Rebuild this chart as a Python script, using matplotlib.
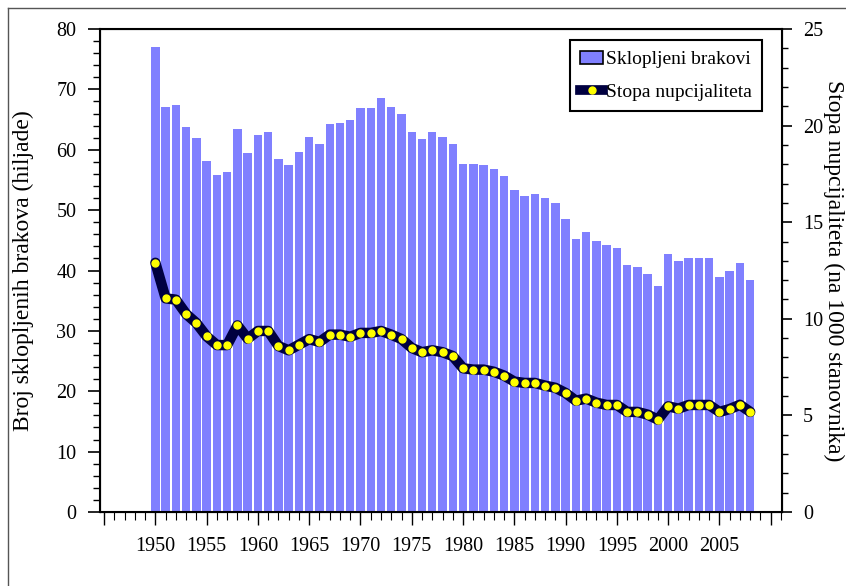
import matplotlib.pyplot as plt
import matplotlib.lines as mlines
import matplotlib.patches as mpatches
from matplotlib.ticker import MultipleLocator, FixedLocator

plt.rcParams['font.family'] = ['Liberation Serif', 'DejaVu Serif']

years = list(range(1950, 2009))

# broj sklopljenih brakova (hiljade)
brakovi = [77.0, 67.1, 67.4, 63.8, 61.9, 58.1, 55.8, 56.3, 63.4, 59.5,
           62.5, 62.9, 58.4, 57.4, 59.7, 62.1, 61.0, 64.3, 64.5, 65.0,
           66.9, 66.9, 68.6, 67.1, 66.0, 62.9, 61.7, 62.9, 62.1, 61.0,
           57.7, 57.7, 57.4, 56.8, 55.6, 53.4, 52.4, 52.6, 52.0, 51.2,
           48.5, 45.3, 46.3, 44.9, 44.2, 43.7, 40.9, 40.5, 39.5, 37.4,
           42.7, 41.6, 42.1, 42.0, 42.1, 38.9, 39.9, 41.2, 38.4]

# stopa nupcijaliteta (na 1000 stanovnika)
stopa = [12.9, 11.06, 10.99, 10.25, 9.78, 9.09, 8.64, 8.64, 9.66, 8.97,
         9.37, 9.37, 8.59, 8.37, 8.66, 8.95, 8.80, 9.18, 9.18, 9.07,
         9.27, 9.27, 9.37, 9.18, 8.95, 8.49, 8.27, 8.37, 8.27, 8.07,
         7.44, 7.37, 7.37, 7.26, 7.06, 6.75, 6.68, 6.68, 6.54, 6.43,
         6.16, 5.76, 5.87, 5.66, 5.54, 5.54, 5.18, 5.18, 5.04, 4.78,
         5.47, 5.35, 5.54, 5.54, 5.54, 5.18, 5.33, 5.55, 5.18]

xticks = list(range(1945, 2011, 5))
xlabels = ['' if y in (1945, 2010) else str(y) for y in xticks]

bar_color = '#8080ff'
line_color = '#000040'

fig = plt.figure(figsize=(8.46, 5.86), dpi=100)
ax = fig.add_axes([100 / 846, 74 / 586, 682 / 846, 483 / 586])

ax.bar(years, brakovi, width=0.82, color=bar_color, zorder=2)
ax.set_xlim(1944.6, 2011.1)
ax.set_ylim(0, 80)
ax.yaxis.set_major_locator(MultipleLocator(10))
ax.yaxis.set_minor_locator(MultipleLocator(2))
ax.xaxis.set_major_locator(FixedLocator(xticks))
ax.set_xticklabels(xlabels)
ax.xaxis.set_minor_locator(MultipleLocator(1))
ax.tick_params(axis='y', which='major', length=9, width=1.2, labelsize=14.5, pad=8)
ax.tick_params(axis='y', which='minor', length=5, width=1)
ax.tick_params(axis='x', which='major', length=9, width=1, labelsize=14.5, pad=9)
ax.tick_params(axis='x', which='minor', length=6, width=0.8)
ax.set_ylabel('Broj sklopljenih brakova (hiljade)', fontsize=17, labelpad=16)
for s in ax.spines.values():
    s.set_linewidth(1.5)

ax2 = ax.twinx()
ax2.plot(years, stopa, color=line_color, linewidth=7.5, solid_joinstyle='round',
         solid_capstyle='round', zorder=3)
ax2.plot(years, stopa, linestyle='none', marker='o', markersize=5,
         markerfacecolor='#ffff00', markeredgecolor='#ffff00', zorder=4)
ax2.set_ylim(0, 25)
ax2.yaxis.set_major_locator(MultipleLocator(5))
ax2.yaxis.set_minor_locator(MultipleLocator(1))
ax2.tick_params(axis='y', which='major', length=7, width=1.2, labelsize=14.5, pad=8)
ax2.tick_params(axis='y', which='minor', length=4, width=1)
ax2.set_ylabel('Stopa nupcijaliteta (na 1000 stanovnika)', fontsize=17,
               rotation=-90, labelpad=15)

h1 = mpatches.Patch(facecolor=bar_color, edgecolor='black', linewidth=1.2)
h2 = (mlines.Line2D([], [], color=line_color, linewidth=7),
      mlines.Line2D([], [], linestyle='none', marker='o', markersize=5,
                    markerfacecolor='#ffff00', markeredgecolor='#ffff00'))
leg = ax2.legend([h1, h2], ['Sklopljeni brakovi', 'Stopa nupcijaliteta'],
                 loc='upper right', bbox_to_anchor=(0.971, 0.977),
                 borderaxespad=0, fontsize=14, fancybox=False,
                 edgecolor='black', framealpha=1, handlelength=1.15,
                 handletextpad=0.15, borderpad=0.55, labelspacing=0.75)
leg.get_frame().set_linewidth(1.5)

# okvir slike (gore i lijevo)
fig.add_artist(mlines.Line2D([8 / 846, 8 / 846], [0, 1 - 8 / 586],
                             color='#555555', linewidth=1))
fig.add_artist(mlines.Line2D([8 / 846, 1], [1 - 8 / 586, 1 - 8 / 586],
                             color='#555555', linewidth=1))

fig.savefig('out.png', dpi=100)
